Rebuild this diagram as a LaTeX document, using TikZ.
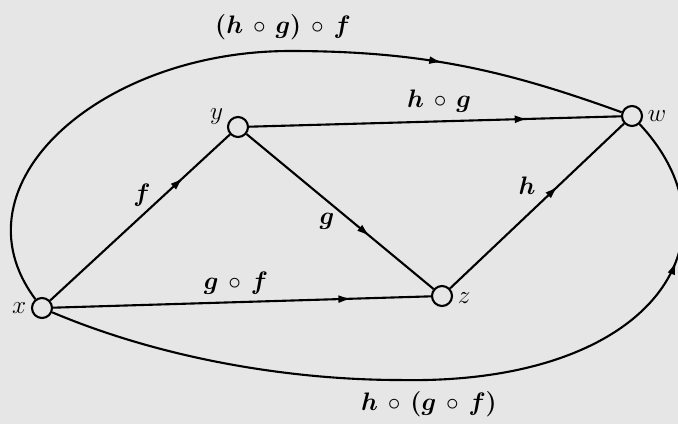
\documentclass[tikz,border=0pt]{standalone}
\usepackage{bm}
\usetikzlibrary{arrows.meta,decorations.markings}
\definecolor{paper}{RGB}{230,230,230}
\newcommand{\compo}{\mathbin{\mkern3mu\circ\mkern3mu}}

\begin{document}
\begin{tikzpicture}[x=0.02cm, y=-0.02cm, line width=1.2pt,
  vertex/.style={circle, draw, fill=paper, minimum size=0.4cm, inner sep=0pt},
  lbl/.style={font=\fontsize{14}{16}\selectfont, inner sep=1pt},
  arrowat/.style={decoration={markings, mark=at position #1 with {\arrow{Latex[length=7.5pt,width=4.5pt]}}}, postaction={decorate}}]
  \useasboundingbox (0,0) rectangle (678,424);
  \fill[paper] (0,0) rectangle (678,424);
  % draw the four objects
  \node[vertex] (x) at (42,308) {};
  \node[vertex] (y) at (238,127) {};
  \node[vertex] (z) at (442,296) {};
  \node[vertex] (w) at (632,116) {};
  % object names
  \node[lbl, anchor=east] (xname) at (29,308) {$x$};
  \node[lbl, anchor=east] (yname) at (226,117) {$y$};
  \node[lbl, anchor=west] (zname) at (455,298) {$z$};
  \node[lbl, anchor=west] (wname) at (645,116) {$w$};
  % draw the single arrows
  \draw[arrowat=0.74] (x) -- (y);
  \draw[arrowat=0.66] (y) -- (z);
  \draw[arrowat=0.62] (z) -- (w);
  \draw[arrowat=0.79] (x) -- (z);
  \draw[arrowat=0.75] (y) -- (w);
  % draw the composite arrows round the outside
  \coordinate (topmid) at (290,51);
  \coordinate (botmid) at (400,380);
  \draw[arrowat=0.76] (x) .. controls (-50,185) and (100,51) .. (topmid)
    .. controls (422,51) and (505,70) .. (w);
  \draw[arrowat=0.818] (x) .. controls (170,362) and (300,380) .. (botmid)
    .. controls (655,385) and (746,238) .. (w);
  % arrow labels
  \node[lbl] (fname) at (142,195) {$\bm{f}$};
  \node[lbl] (gname) at (327,221) {$\bm{g}$};
  \node[lbl] (hname) at (527,186) {$\bm{h}$};
  \node[lbl] (gfname) at (236,283) {$\bm{g}\compo\bm{f}$};
  \node[lbl] (hgname) at (439,101) {$\bm{h}\compo\bm{g}$};
  \node[lbl] (hgfname) at (283,27) {$\bm{(h}\compo\bm{g)}\compo\bm{f}$};
  \node[lbl] (hgftwo) at (429,404) {$\bm{h}\compo\bm{(g}\compo\bm{f)}$};
\end{tikzpicture}
\end{document}
